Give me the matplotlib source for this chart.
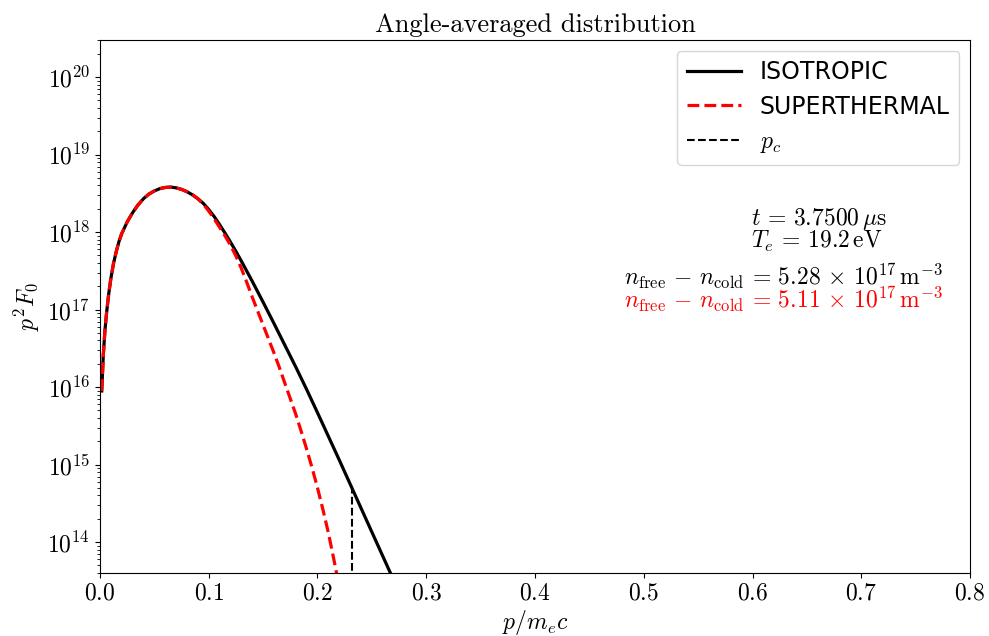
import numpy as np
import matplotlib
matplotlib.use('Agg')
import matplotlib.pyplot as plt

plt.rcParams['font.family'] = 'cmr10'
plt.rcParams['mathtext.fontset'] = 'cm'
plt.rcParams['axes.formatter.use_mathtext'] = True

# momentum p/m_e c and log10(p^2 F0)
p_iso = [0.0016, 0.0030, 0.0045, 0.0060, 0.0080, 0.0100, 0.0125, 0.0150, 0.0175,
         0.0200, 0.0250, 0.0300, 0.0350, 0.0400, 0.0450, 0.0500, 0.0550, 0.0600,
         0.0650, 0.0700, 0.0750, 0.0800, 0.0850, 0.0900, 0.0950, 0.1000, 0.1050,
         0.1100, 0.1150, 0.1200, 0.1250, 0.1300, 0.1400, 0.1500, 0.1600, 0.1700,
         0.1800, 0.1900, 0.2000, 0.2100, 0.2200, 0.2300, 0.2400, 0.2500, 0.2600,
         0.2700]
logf_iso = [15.95, 16.40, 16.72, 16.95, 17.20, 17.40, 17.60, 17.75, 17.88,
            17.98, 18.13, 18.25, 18.35, 18.43, 18.49, 18.53, 18.56, 18.575,
            18.58, 18.57, 18.55, 18.52, 18.48, 18.43, 18.37, 18.29, 18.20,
            18.095, 17.985, 17.87, 17.75, 17.625, 17.365, 17.095, 16.82, 16.54,
            16.26, 15.97, 15.67, 15.365, 15.06, 14.75, 14.44, 14.13, 13.82,
            13.51]

p_st = [0.0016, 0.0030, 0.0045, 0.0060, 0.0080, 0.0100, 0.0125, 0.0150, 0.0175,
        0.0200, 0.0250, 0.0300, 0.0350, 0.0400, 0.0450, 0.0500, 0.0550, 0.0600,
        0.0650, 0.0700, 0.0750, 0.0800, 0.0850, 0.0900, 0.0950, 0.1000, 0.1050,
        0.1100, 0.1150, 0.1200, 0.1250, 0.1300, 0.1350, 0.1400, 0.1450, 0.1500,
        0.1550, 0.1600, 0.1650, 0.1700, 0.1750, 0.1800, 0.1850, 0.1900, 0.1950,
        0.2000, 0.2050, 0.2100, 0.2150, 0.2200]
logf_st = [15.95, 16.40, 16.72, 16.95, 17.20, 17.40, 17.60, 17.75, 17.88,
           17.98, 18.13, 18.25, 18.35, 18.43, 18.49, 18.53, 18.56, 18.575,
           18.58, 18.57, 18.55, 18.52, 18.48, 18.43, 18.36, 18.27, 18.17,
           18.06, 17.95, 17.83, 17.69, 17.53, 17.35, 17.16, 16.98, 16.80,
           16.62, 16.44, 16.25, 16.05, 15.85, 15.65, 15.43, 15.20, 14.96,
           14.70, 14.42, 14.12, 13.78, 13.42]

p_c = 0.232
f_pc = 10**14.69

t_us = 3.75
Te_eV = 19.2
dn_iso = 5.28
dn_st = 5.11

fig = plt.figure(figsize=(9.89, 6.36), dpi=100)
ax = fig.add_axes([0.1011, 0.0991, 0.8797, 0.838])

ax.semilogy(p_iso, 10**np.array(logf_iso), 'k-', lw=2.3, label='ISOTROPIC')
ax.semilogy(p_st, 10**np.array(logf_st), 'r--', lw=2.3, label='SUPERTHERMAL')
ax.plot([p_c, p_c], [1e10, f_pc], 'k--', lw=1.5, label='$p_c$')

ax.set_xlim(0, 0.8)
ax.set_ylim(4e13, 3e20)
ax.set_xlabel('$p/m_ec$', fontsize=17, labelpad=2)
ax.set_ylabel('$p^2F_0$', fontsize=17, labelpad=4)
ax.set_title('Angle-averaged distribution', fontsize=19, pad=6)
ax.tick_params(labelsize=17)

leg = ax.legend(loc='upper right', prop={'family': 'DejaVu Sans', 'size': 17},
                handlelength=2.3, borderaxespad=0.45, labelspacing=0.45)

ax.text(0.748, 0.664, '$t \\,=\\, %.4f\\,\\mu\\mathrm{s}$' % t_us, transform=ax.transAxes,
        fontsize=17, ha='left', va='center')
ax.text(0.748, 0.622, '$T_e \\,=\\, %.1f\\,\\mathrm{eV}$' % Te_eV, transform=ax.transAxes,
        fontsize=17, ha='left', va='center')
ax.text(0.969, 0.556,
        '$n_\\mathrm{free} \\,-\\, n_\\mathrm{cold} \\,=\\, %.2f \\,\\times\\, 10^{17}\\,\\mathrm{m}^{-3}$' % dn_iso,
        transform=ax.transAxes, fontsize=17, ha='right', va='center')
ax.text(0.969, 0.513,
        '$n_\\mathrm{free} \\,-\\, n_\\mathrm{cold} \\,=\\, %.2f \\,\\times\\, 10^{17}\\,\\mathrm{m}^{-3}$' % dn_st,
        transform=ax.transAxes, fontsize=17, ha='right', va='center', color='red')

fig.savefig('out.png', dpi=100)
